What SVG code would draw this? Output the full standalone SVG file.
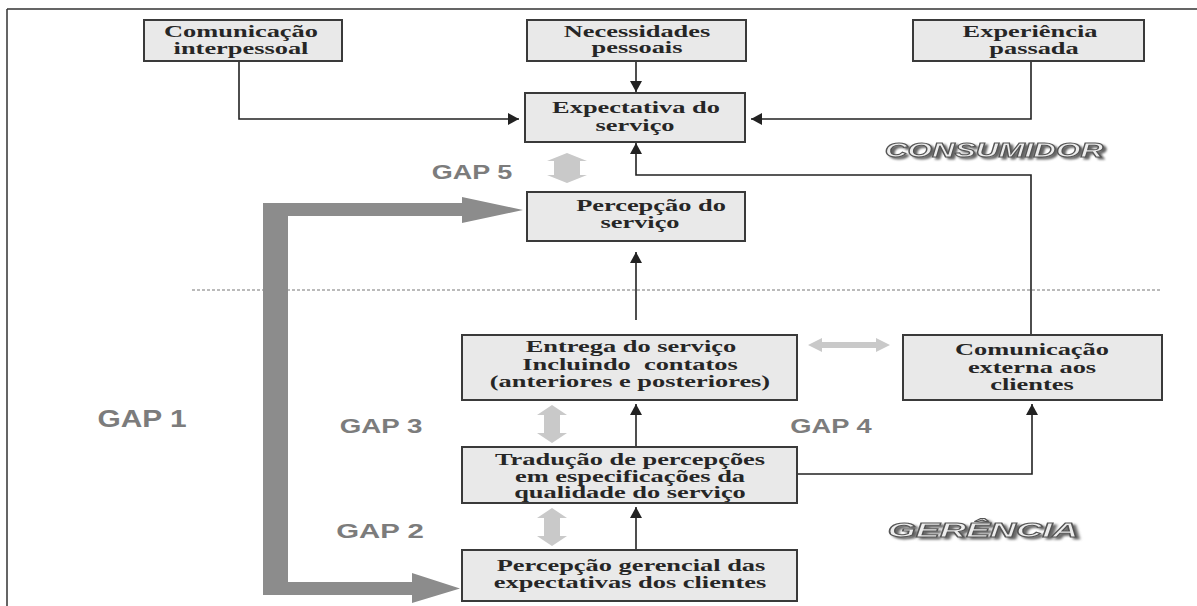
<svg xmlns="http://www.w3.org/2000/svg" width="1197" height="606" viewBox="0 0 1197 606">
<style>
.box{fill:#e9e9e9;stroke:#3a3a3a;stroke-width:2}
.t{font-family:"Liberation Serif","Times New Roman",serif;font-weight:bold;font-size:16px;fill:#262626;text-anchor:middle}
.gap{font-family:"Liberation Sans",Arial,sans-serif;font-weight:bold;font-size:21px;fill:#7c7c7c;text-anchor:middle}
.zone{font-family:"Liberation Sans",Arial,sans-serif;font-weight:bold;font-style:italic;font-size:21px;fill:#ededed;stroke:#555;stroke-width:1;text-anchor:middle}
.ln{fill:none;stroke:#222;stroke-width:1.6}
.lg{fill:#c9c9c9}
.big{fill:#8c8c8c}
</style>
<defs>
<marker id="ah" markerUnits="userSpaceOnUse" markerWidth="11" markerHeight="12" refX="11" refY="6" orient="auto">
<path d="M0,0 L11,6 L0,12 z" fill="#222"/>
</marker>
<filter id="sh" x="-10%" y="-30%" width="120%" height="160%">
<feDropShadow dx="2" dy="2" stdDeviation="0.8" flood-color="#666" flood-opacity="1"/>
</filter>
</defs>
<rect width="1197" height="606" fill="#fff"/>
<path d="M7,9 H1197 M7,9 V606" fill="none" stroke="#333" stroke-width="1.5"/>
<line x1="192" y1="290" x2="1162" y2="290" stroke="#777" stroke-width="1" stroke-dasharray="3,2"/>

<g id="connectors">
<path class="ln" d="M239,61 V119 H519" marker-end="url(#ah)"/>
<path class="ln" d="M636,61 V92" marker-end="url(#ah)"/>
<path class="ln" d="M1031,61 V119 H751" marker-end="url(#ah)"/>
<path class="ln" d="M1031,335 V175 H636 V143" marker-end="url(#ah)"/>
<path class="ln" d="M636,320 V252" marker-end="url(#ah)"/>
<path class="ln" d="M636,447 V404" marker-end="url(#ah)"/>
<path class="ln" d="M636,550 V507" marker-end="url(#ah)"/>
<path class="ln" d="M797,474 H1032 V404" marker-end="url(#ah)"/>
<polygon class="lg" points="567,153 587,161 580,161 580,175 587,175 567,183 547,175 554,175 554,161 547,161"/>
<polygon class="lg" points="552,405 567,415 560,415 560,433 567,433 552,443 537,433 544,433 544,415 537,415"/>
<polygon class="lg" points="552,508 567,518 560,518 560,536 567,536 552,546 537,536 544,536 544,518 537,518"/>
<polygon class="lg" points="808,345 822,338 822,342 876,342 876,338 890,345 876,352 876,348 822,348 822,352"/>
<polygon class="big" points="263,203 462,203 462,197 523,210 462,223 462,216 288,216 288,582 412,582 412,573 460,588.5 412,603 412,595 263,595"/>
</g>

<g id="n-com-inter">
<rect class="box" x="144" y="20" width="198" height="41"/>
<text class="t" transform="translate(241,37) scale(1.65,1)">Comunicação</text>
<text class="t" transform="translate(241,54) scale(1.65,1)">interpessoal</text>
</g>
<g id="n-necessidades">
<rect class="box" x="527" y="20" width="219" height="41"/>
<text class="t" transform="translate(637,37) scale(1.65,1)">Necessidades</text>
<text class="t" transform="translate(637,53) scale(1.65,1)">pessoais</text>
</g>
<g id="n-experiencia">
<rect class="box" x="913" y="20" width="231" height="41"/>
<text class="t" transform="translate(1030,37) scale(1.65,1)">Experiência</text>
<text class="t" transform="translate(1034,54) scale(1.65,1)">passada</text>
</g>
<g id="n-expectativa">
<rect class="box" x="525" y="93" width="220" height="49"/>
<text class="t" transform="translate(636,113) scale(1.65,1)">Expectativa do</text>
<text class="t" transform="translate(635,131) scale(1.65,1)">serviço</text>
</g>
<g id="n-percepcao">
<rect class="box" x="527" y="192" width="218" height="49"/>
<text class="t" transform="translate(651,211) scale(1.65,1)">Percepção do</text>
<text class="t" transform="translate(640,228) scale(1.65,1)">serviço</text>
</g>
<g id="n-entrega">
<rect class="box" x="462" y="335" width="335" height="65"/>
<text class="t" transform="translate(631,352) scale(1.65,1)">Entrega do serviço</text>
<text class="t" xml:space="preserve" transform="translate(630,370) scale(1.65,1)">Incluindo  contatos</text>
<text class="t" transform="translate(630,387) scale(1.65,1)">(anteriores e posteriores)</text>
</g>
<g id="n-com-externa">
<rect class="box" x="903" y="335" width="259" height="65"/>
<text class="t" transform="translate(1032,355) scale(1.65,1)">Comunicação</text>
<text class="t" transform="translate(1032,373) scale(1.65,1)">externa aos</text>
<text class="t" transform="translate(1032,390) scale(1.65,1)">clientes</text>
</g>
<g id="n-traducao">
<rect class="box" x="462" y="447" width="335" height="56"/>
<text class="t" transform="translate(630,465) scale(1.65,1)">Tradução de percepções</text>
<text class="t" transform="translate(630,482) scale(1.65,1)">em especificações da</text>
<text class="t" transform="translate(630,498) scale(1.65,1)">qualidade do serviço</text>
</g>
<g id="n-perc-gerencial">
<rect class="box" x="462" y="550" width="335" height="51"/>
<text class="t" transform="translate(631,571) scale(1.65,1)">Percepção gerencial das</text>
<text class="t" transform="translate(630,588) scale(1.65,1)">expectativas dos clientes</text>
</g>

<g id="labels">
<text class="gap" style="font-size:20px" transform="translate(472,179) scale(1.35,1)">GAP 5</text>
<text class="gap" style="font-size:23px" transform="translate(142,427) scale(1.3,1)">GAP 1</text>
<text class="gap" transform="translate(381,433) scale(1.32,1)">GAP 3</text>
<text class="gap" transform="translate(380,538) scale(1.4,1)">GAP 2</text>
<text class="gap" transform="translate(831,433) scale(1.3,1)">GAP 4</text>
<text class="zone" filter="url(#sh)" transform="translate(994,157) scale(1.5,1)">CONSUMIDOR</text>
<text class="zone" filter="url(#sh)" transform="translate(983,537) scale(1.72,1)">GERÊNCIA</text>
</g>
</svg>
